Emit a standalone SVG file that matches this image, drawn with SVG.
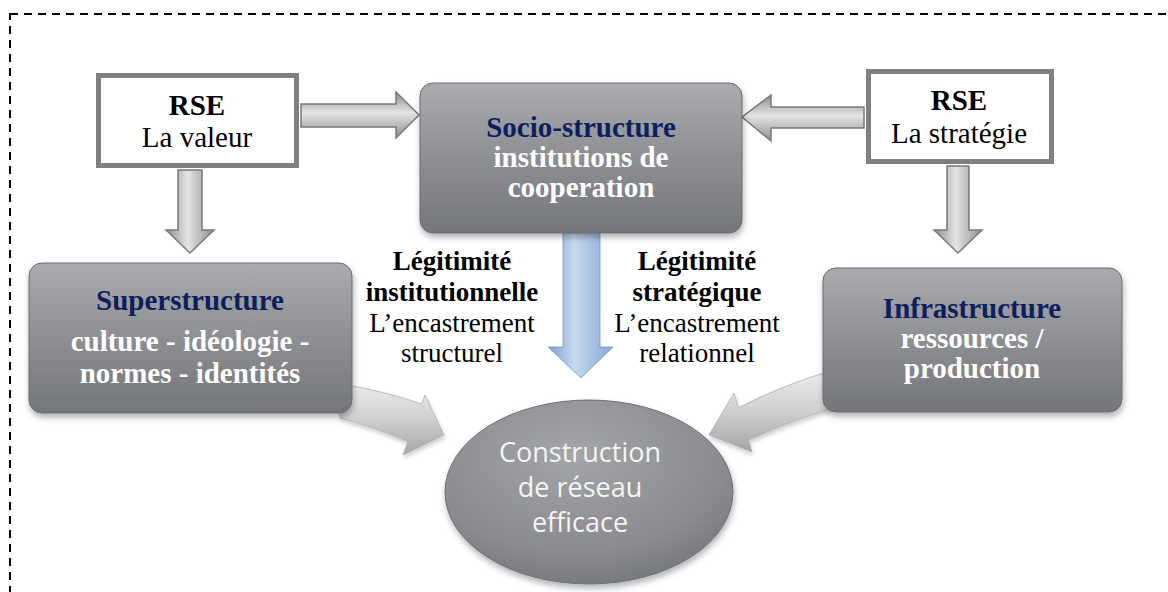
<svg xmlns="http://www.w3.org/2000/svg" width="1168" height="592" viewBox="0 0 1168 592">
<style>
.serif{font-family:"Liberation Serif","Times New Roman",serif;text-anchor:middle}
.b{font-weight:bold}
.t29{font-size:29px}
.t27{font-size:27px}
.navy{fill:#0d1f5e}
.white{fill:#ffffff}
.blk{fill:#000000}
.rse{fill:#ffffff;stroke:#7f7f7f;stroke-width:5}
.gbox{fill:url(#gboxg);stroke:#6a6c70;stroke-width:1;filter:url(#shadow)}
.sarrow{stroke:#7a7a7a;stroke-width:1.5;stroke-linejoin:miter}
.carrow{fill:url(#carrowg);stroke:#b0b0b0;stroke-width:0.8;filter:url(#shadow2)}
.ell{font-family:"Open Sans","Noto Sans",sans-serif;font-size:27px;fill:#f4f4f4;text-anchor:middle}
</style>
<defs>
<linearGradient id="gboxg" x1="0" y1="0" x2="0" y2="1">
<stop offset="0" stop-color="#a9abae"/>
<stop offset="0.5" stop-color="#8d8f93"/>
<stop offset="1" stop-color="#74767a"/>
</linearGradient>
<radialGradient id="ellg" cx="0.45" cy="0.3" r="0.75">
<stop offset="0" stop-color="#a3a5a8"/>
<stop offset="0.7" stop-color="#898b8f"/>
<stop offset="1" stop-color="#737579"/>
</radialGradient>
<linearGradient id="harrowg" x1="0" y1="0" x2="0" y2="1">
<stop offset="0" stop-color="#8c8c8c"/>
<stop offset="0.45" stop-color="#e4e4e4"/>
<stop offset="1" stop-color="#8f8f8f"/>
</linearGradient>
<linearGradient id="varrowg" x1="0" y1="0" x2="1" y2="0">
<stop offset="0" stop-color="#8c8c8c"/>
<stop offset="0.45" stop-color="#e4e4e4"/>
<stop offset="1" stop-color="#8f8f8f"/>
</linearGradient>
<linearGradient id="blueg" x1="0" y1="0" x2="1" y2="0">
<stop offset="0" stop-color="#7c9fd0"/>
<stop offset="0.4" stop-color="#c6d8ef"/>
<stop offset="1" stop-color="#86a8d6"/>
</linearGradient>
<linearGradient id="carrowg" x1="0" y1="0" x2="0" y2="1">
<stop offset="0" stop-color="#ececec"/>
<stop offset="0.5" stop-color="#cfcfcf"/>
<stop offset="1" stop-color="#a4a4a4"/>
</linearGradient>
<filter id="shadow" x="-10%" y="-10%" width="125%" height="130%">
<feDropShadow dx="1" dy="4" stdDeviation="3" flood-color="#000" flood-opacity="0.3"/>
</filter>
<filter id="shadow2" x="-10%" y="-10%" width="125%" height="130%">
<feDropShadow dx="1" dy="3" stdDeviation="2" flood-color="#000" flood-opacity="0.2"/>
</filter>
</defs>
<rect x="0" y="0" width="1168" height="592" fill="#ffffff"/>
<rect id="frame" x="10" y="14" width="1200" height="700" fill="none" stroke="#000" stroke-width="2" stroke-dasharray="8 6"/>

<g id="connectors">
<path class="carrow" d="M 340 384 Q 385 391 421.7 404 L 425 395 L 444 435 L 403 455 L 407.8 441.8 Q 378 428 340 418 Z"/>
<path class="carrow" d="M 830 371 Q 780 386 738.5 407.8 L 734 393 L 709 435 L 752 452 L 748.4 440.2 Q 790 421 830 409 Z"/>
<path class="sarrow" fill="url(#harrowg)" d="M 301 104 L 396 104 L 396 92 L 419 115 L 396 138 L 396 127 L 301 127 Z"/>
<path class="sarrow" fill="url(#harrowg)" d="M 864 107 L 771 107 L 771 95 L 742 117 L 771 141 L 771 128 L 864 128 Z"/>
<path class="sarrow" fill="url(#varrowg)" d="M 178 170 L 202 170 L 202 230 L 214 230 L 190 253 L 166 230 L 178 230 Z"/>
<path class="sarrow" fill="url(#varrowg)" d="M 947 166 L 969 166 L 969 230 L 982 230 L 958 253 L 934 230 L 947 230 Z"/>
<path fill="url(#blueg)" stroke="#7596c4" stroke-width="0.8" d="M 563 233 L 600 233 L 600 347 L 613 347 L 581 378 L 548 347 L 563 347 Z"/>
</g>

<g id="rse-valeur">
<rect class="rse" x="98.5" y="75.5" width="198" height="90"/>
<text class="serif b t29 blk" x="197" y="115">RSE</text>
<text class="serif t29 blk" x="197" y="147">La valeur</text>
</g>

<g id="rse-strategie">
<rect class="rse" x="868.5" y="71.5" width="183" height="90"/>
<text class="serif b t29 blk" x="959" y="110">RSE</text>
<text class="serif t29 blk" x="959" y="143">La stratégie</text>
</g>

<g id="socio-structure">
<rect class="gbox" x="420" y="83" width="322" height="150" rx="13"/>
<text class="serif b t29 navy" x="581" y="137">Socio-structure</text>
<text class="serif b t29 white" x="581" y="167">institutions de</text>
<text class="serif b t29 white" x="581" y="197">cooperation</text>
</g>

<g id="superstructure">
<rect class="gbox" x="29" y="263" width="323" height="150" rx="13"/>
<text class="serif b t29 navy" x="190" y="310">Superstructure</text>
<text class="serif b t29 white" x="190" y="351">culture - idéologie -</text>
<text class="serif b t29 white" x="190" y="383">normes - identités</text>
</g>

<g id="infrastructure">
<rect class="gbox" x="823" y="268" width="299" height="144" rx="13"/>
<text class="serif b t29 navy" x="972" y="318">Infrastructure</text>
<text class="serif b t29 white" x="972" y="348">ressources /</text>
<text class="serif b t29 white" x="972" y="378">production</text>
</g>

<g id="legitimite-institutionnelle">
<text class="serif b t27 blk" x="452" y="270">Légitimité</text>
<text class="serif b t27 blk" x="452" y="301">institutionnelle</text>
<text class="serif t27 blk" x="452" y="332">L’encastrement</text>
<text class="serif t27 blk" x="452" y="362">structurel</text>
</g>

<g id="legitimite-strategique">
<text class="serif b t27 blk" x="697" y="270">Légitimité</text>
<text class="serif b t27 blk" x="697" y="301">stratégique</text>
<text class="serif t27 blk" x="697" y="332">L’encastrement</text>
<text class="serif t27 blk" x="697" y="362">relationnel</text>
</g>

<g id="construction">
<ellipse cx="589" cy="492" rx="144" ry="92" fill="url(#ellg)" stroke="#6f7175" stroke-width="1" filter="url(#shadow)"/>
<text class="ell" x="580" y="462">Construction</text>
<text class="ell" x="580" y="497">de réseau</text>
<text class="ell" x="580" y="532">efficace</text>
</g>
</svg>
